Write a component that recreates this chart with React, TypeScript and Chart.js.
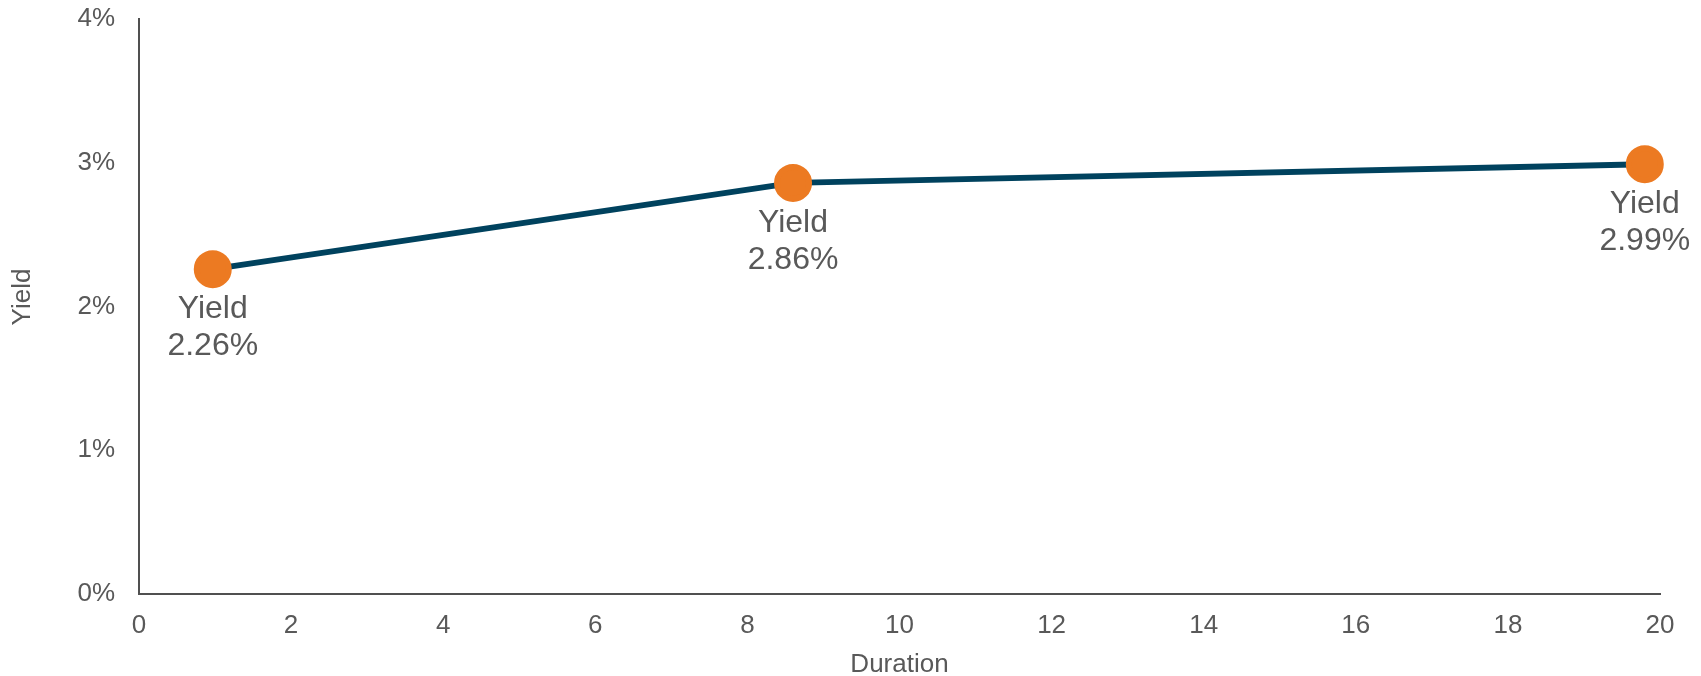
import React, { useEffect, useRef } from "react";
import { Chart, registerables } from "chart.js";

Chart.register(...registerables);

const durations = [0.97, 8.6, 19.8];
const yields = [2.26, 2.86, 2.99];
const pointLabel = "Yield";
const xTitle = "Duration";
const yTitle = "Yield";
const xTicks = [0, 2, 4, 6, 8, 10, 12, 14, 16, 18, 20];
const yTicks = [0, 1, 2, 3, 4];

const FONT = "'Liberation Sans', Arial, sans-serif";
const TEXT = "#595959";

const labelPlugin = {
  id: "pointLabels",
  afterDatasetsDraw(chart: any) {
    const ctx = chart.ctx;
    const meta = chart.getDatasetMeta(0);
    ctx.save();
    ctx.font = `32px ${FONT}`;
    ctx.fillStyle = TEXT;
    ctx.textAlign = "center";
    ctx.textBaseline = "middle";
    meta.data.forEach((pt: any, i: number) => {
      ctx.fillText(pointLabel, pt.x, pt.y + 40);
      ctx.fillText(yields[i].toFixed(2) + "%", pt.x, pt.y + 77);
    });
    ctx.restore();
  },
};

const yTitlePlugin = {
  id: "yTitle",
  afterDraw(chart: any) {
    const ctx = chart.ctx;
    ctx.save();
    ctx.font = `26px ${FONT}`;
    ctx.fillStyle = TEXT;
    ctx.textAlign = "center";
    ctx.textBaseline = "middle";
    ctx.translate(23, 297);
    ctx.rotate(-Math.PI / 2);
    ctx.fillText(yTitle, 0, 0);
    ctx.restore();
  },
};

export default function App() {
  const ref = useRef<HTMLCanvasElement | null>(null);
  useEffect(() => {
    if (!ref.current) return;
    const chart = new Chart(ref.current, {
      type: "line",
      data: {
        datasets: [
          {
            data: durations.map((d, i) => ({ x: d, y: yields[i] })),
            borderColor: "#00425E",
            borderWidth: 6,
            pointBackgroundColor: "#EC7A22",
            pointBorderColor: "#EC7A22",
            pointRadius: 16,
            pointHoverRadius: 16,
            tension: 0,
            clip: false as any,
          },
        ],
      },
      options: {
        animation: false,
        responsive: false,
        maintainAspectRatio: false,
        layout: { autoPadding: false, padding: { top: 19, right: 41, left: 0, bottom: 0 } },
        plugins: { legend: { display: false }, tooltip: { enabled: false } },
        scales: {
          x: {
            type: "linear",
            min: 0,
            max: 20,
            afterBuildTicks: (s: any) => {
              s.ticks = xTicks.map((v) => ({ value: v }));
            },
            afterFit: (s: any) => {
              s.height = 82;
              s.paddingLeft = 0;
              s.paddingRight = 0;
            },
            grid: { display: false, drawTicks: false },
            border: { display: true, color: "#505050", width: 2 },
            ticks: {
              padding: 16,
              color: TEXT,
              font: { family: FONT, size: 26 },
              maxRotation: 0,
            },
            title: {
              display: true,
              text: xTitle,
              color: TEXT,
              font: { family: FONT, size: 26, lineHeight: 0.85 },
              padding: { top: 0, bottom: 0 },
            },
          },
          y: {
            type: "linear",
            min: 0,
            max: 4,
            afterBuildTicks: (s: any) => {
              s.ticks = yTicks.map((v) => ({ value: v }));
            },
            afterFit: (s: any) => {
              s.width = 139;
              s.paddingTop = 0;
              s.paddingBottom = 0;
            },
            grid: { display: false, drawTicks: false },
            border: { display: true, color: "#505050", width: 2 },
            ticks: {
              padding: 24,
              color: TEXT,
              font: { family: FONT, size: 26 },
              callback: (v: any) => v + "%",
            },
          },
        },
      },
      plugins: [labelPlugin, yTitlePlugin],
    });
    return () => chart.destroy();
  }, []);
  return (
    <div style={{ position: "fixed", left: 0, top: 0, width: 1701, height: 676, background: "#fff" }}>
      <canvas ref={ref} width={1701} height={676} style={{ display: "block" }} />
    </div>
  );
}
